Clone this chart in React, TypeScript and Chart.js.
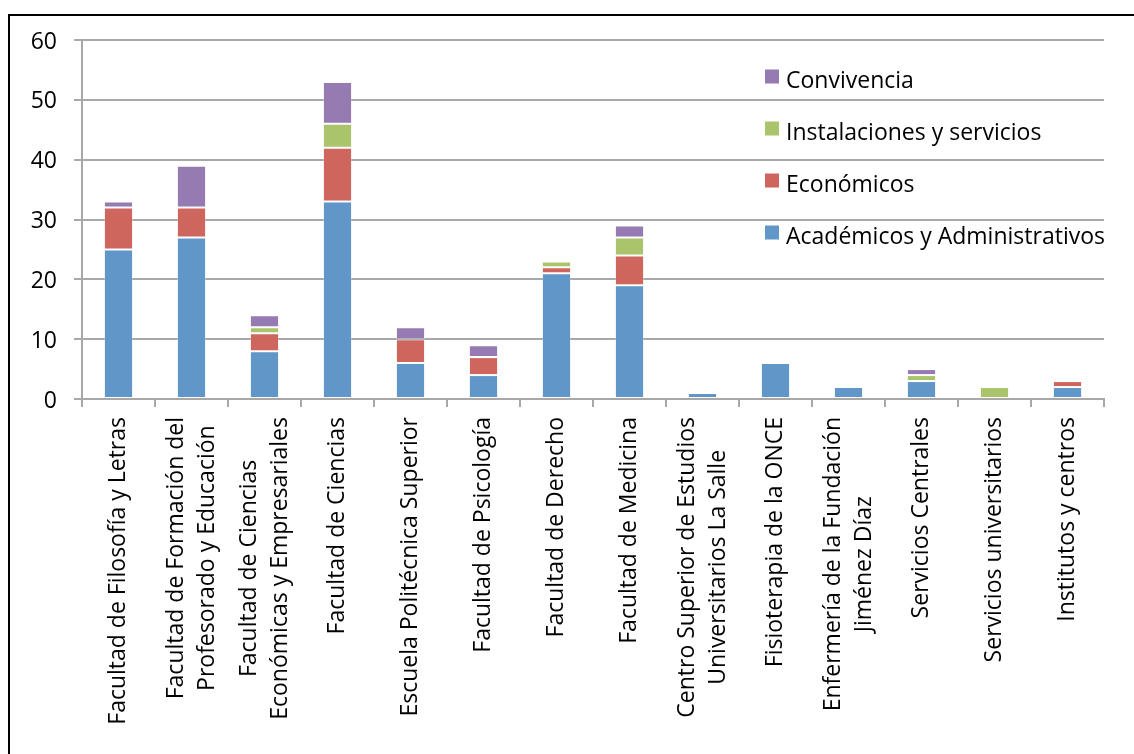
import React, { useEffect, useRef } from "react";
import { Chart, registerables } from "chart.js";

Chart.register(...registerables);

// Categories (each entry is the list of lines of the axis label)
const categories: string[][] = [
  ["Facultad de Filosofía y Letras"],
  ["Facultad de Formación del", "Profesorado y Educación"],
  ["Facultad de Ciencias", "Económicas y Empresariales"],
  ["Facultad de Ciencias"],
  ["Escuela Politécnica Superior"],
  ["Facultad de Psicología"],
  ["Facultad de Derecho"],
  ["Facultad de Medicina"],
  ["Centro Superior de Estudios", "Universitarios La Salle"],
  ["Fisioterapia de la ONCE"],
  ["Enfermería de la Fundación", "Jiménez Díaz"],
  ["Servicios Centrales"],
  ["Servicios universitarios"],
  ["Institutos y centros"],
];

// Series values, stacked bottom to top
const academicos = [25, 27, 8, 33, 6, 4, 21, 19, 1, 6, 2, 3, 0, 2];
const economicos = [7, 5, 3, 9, 4, 3, 1, 5, 0, 0, 0, 0, 0, 1];
const instalaciones = [0, 0, 1, 4, 0, 0, 1, 3, 0, 0, 0, 1, 2, 0];
const convivencia = [1, 7, 2, 7, 2, 2, 0, 2, 0, 0, 0, 1, 0, 0];

const seriesNames = [
  "Académicos y Administrativos",
  "Económicos",
  "Instalaciones y servicios",
  "Convivencia",
];
const seriesColors = ["#6196c9", "#ce665e", "#aac46c", "#957bb1"];

const Y_MIN = 0;
const Y_MAX = 60;
const Y_STEP = 10;

const FONT_FAMILY = "'Open Sans', Lato, sans-serif";
const FONT_SIZE = 23;
const GRID_COLOR = "#a8a8a8";

// Rotated category labels, multi-line labels centred on each other
const categoryLabelsPlugin = {
  id: "categoryLabels",
  afterDraw(chart: any) {
    const { ctx, chartArea } = chart;
    const xScale = chart.scales.x;
    const lineGap = 31;
    const top = chartArea.bottom + 18;
    ctx.save();
    ctx.font = `${FONT_SIZE}px ${FONT_FAMILY}`;
    ctx.fillStyle = "#000";
    ctx.textAlign = "center";
    ctx.textBaseline = "middle";
    categories.forEach((lines, i) => {
      const x = xScale.getPixelForValue(i);
      const maxW = Math.max(...lines.map((l) => ctx.measureText(l).width));
      ctx.save();
      ctx.translate(x, top + maxW / 2);
      ctx.rotate(-Math.PI / 2);
      lines.forEach((line, j) => {
        ctx.fillText(line, 0, (j - (lines.length - 1) / 2) * lineGap);
      });
      ctx.restore();
    });
    ctx.restore();
  },
};

// Legend inside the plot area, listed top series first
const insideLegendPlugin = {
  id: "insideLegend",
  afterDraw(chart: any) {
    const { ctx, chartArea } = chart;
    const datasets = chart.data.datasets;
    const boxX = chartArea.right - 339;
    const textX = boxX + 21;
    ctx.save();
    ctx.font = `${FONT_SIZE}px ${FONT_FAMILY}`;
    ctx.textAlign = "left";
    ctx.textBaseline = "alphabetic";
    for (let k = 0; k < datasets.length; k++) {
      const ds = datasets[datasets.length - 1 - k];
      const baseline = chartArea.top + 47.5 + k * 52;
      ctx.fillStyle = ds.backgroundColor;
      ctx.fillRect(boxX, baseline - 18, 14, 14);
      ctx.fillStyle = "#000";
      ctx.fillText(ds.label, textX, baseline);
    }
    ctx.restore();
  },
};

export default function App() {
  const canvasRef = useRef<HTMLCanvasElement | null>(null);

  useEffect(() => {
    if (!canvasRef.current) return;
    const values = [academicos, economicos, instalaciones, convivencia];
    const chart = new Chart(canvasRef.current, {
      type: "bar",
      data: {
        labels: categories.map((c) => c.join(" ")),
        datasets: values.map((data, i) => ({
          label: seriesNames[i],
          data,
          backgroundColor: seriesColors[i],
          borderColor: "rgba(255,255,255,0.3)",
          borderWidth: 1,
          borderSkipped: false,
          barPercentage: 0.4,
          categoryPercentage: 1,
        })),
      },
      options: {
        animation: false,
        responsive: false,
        devicePixelRatio: 1,
        layout: { padding: { top: 24, right: 30, left: 0, bottom: 0 } },
        plugins: {
          legend: { display: false },
          tooltip: { enabled: false },
          title: { display: false },
        },
        scales: {
          x: {
            stacked: true,
            offset: true,
            grid: {
              offset: true,
              drawOnChartArea: false,
              drawTicks: true,
              tickLength: 8,
              color: GRID_COLOR,
              lineWidth: 2,
            },
            border: { display: true, color: GRID_COLOR, width: 2 },
            ticks: { display: false },
            afterFit(scale: any) {
              scale.height = 355;
              scale.paddingLeft = 0;
              scale.paddingRight = 0;
            },
          },
          y: {
            stacked: true,
            min: Y_MIN,
            max: Y_MAX,
            ticks: {
              stepSize: Y_STEP,
              padding: 17,
              labelOffset: 2,
              color: "#000",
              font: { family: FONT_FAMILY, size: FONT_SIZE },
            },
            grid: {
              color: GRID_COLOR,
              lineWidth: 2,
              tickLength: 8,
              drawTicks: true,
            },
            border: { display: true, color: GRID_COLOR, width: 2 },
            afterFit(scale: any) {
              scale.width = 72;
              scale.paddingTop = 0;
              scale.paddingBottom = 0;
            },
          },
        },
      },
      plugins: [categoryLabelsPlugin, insideLegendPlugin],
    });
    return () => chart.destroy();
  }, []);

  return (
    <div
      style={{
        position: "fixed",
        left: 0,
        top: 0,
        width: 1134,
        height: 754,
        overflow: "hidden",
        background: "#fff",
      }}
    >
      <div
        style={{
          position: "absolute",
          left: 8,
          top: 14,
          width: 1200,
          height: 800,
          border: "2px solid #000",
        }}
      />
      <canvas
        ref={canvasRef}
        width={1124}
        height={738}
        style={{ position: "absolute", left: 10, top: 16, width: 1124, height: 738 }}
      />
    </div>
  );
}
